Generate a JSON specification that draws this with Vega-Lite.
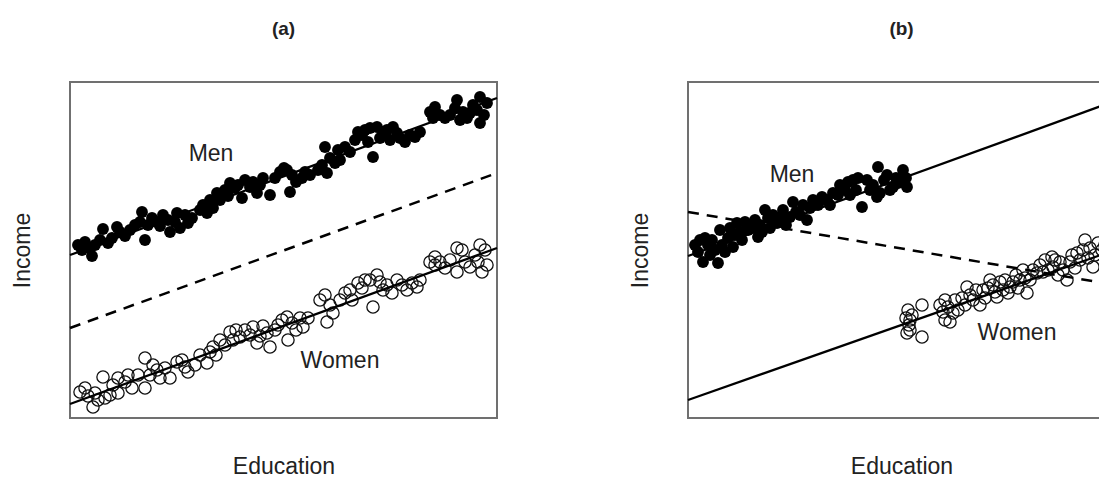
{
  "$schema": "https://vega.github.io/schema/vega-lite/v6.json",
  "background": "white",
  "padding": {"left": 10, "top": 19, "right": 0, "bottom": 0},
  "spacing": 125,
  "config": {
    "view": {"stroke": "#707070", "strokeWidth": 2},
    "axis": {"domain": false, "ticks": false, "labels": false, "grid": false, "titleFont": "Liberation Sans", "titleFontSize": 23, "titleFontWeight": "normal", "titleColor": "#222222"},
    "axisY": {"titlePadding": 36},
    "axisX": {"titlePadding": 37},
    "title": {"font": "Liberation Sans", "fontSize": 19, "fontWeight": "bold", "color": "#222222", "offset": 43},
    "text": {"font": "Liberation Sans", "fontSize": 23, "color": "#222222"}
  },
  "datasets": {
    "a_men": [[15,176],[33,189],[47,191],[72,206],[75,178],[87,196],[100,186],[107,205],[118,195],[137,205],[147,225],[160,235],[175,238],[172,220],[187,225],[200,223],[210,246],[217,248],[220,226],[232,240],[255,271],[257,245],[265,255],[275,271],[288,286],[300,290],[303,261],[307,291],[317,288],[327,285],[335,276],[345,281],[365,311],[387,318],[410,321],[400,305],[410,295],[390,298],[8,173],[12,168],[20,170],[25,173],[22,162],[30,178],[38,175],[42,180],[50,186],[55,182],[60,188],[65,193],[70,196],[78,193],[82,200],[90,192],[93,203],[98,198],[105,196],[110,190],[115,203],[122,200],[130,208],[133,213],[140,218],[143,210],[150,218],[155,228],[158,222],[165,230],[168,233],[180,231],[183,236],[190,233],[193,240],[205,240],[214,250],[222,243],[226,236],[235,246],[240,243],[248,248],[252,253],[260,260],[268,268],[270,258],[280,266],[285,278],[292,283],[295,288],[298,276],[310,280],[313,286],[320,278],[323,291],[330,280],[340,283],[350,286],[360,306],[363,300],[370,303],[375,300],[380,303],[385,310],[393,306],[397,300],[403,313],[407,308],[414,303],[417,315]],
    "a_women": [[15,30],[23,11],[33,41],[40,23],[48,40],[48,25],[68,43],[75,60],[75,30],[87,48],[100,40],[107,56],[118,46],[137,55],[143,71],[150,78],[160,86],[170,81],[175,88],[187,75],[197,85],[200,71],[212,98],[217,101],[218,78],[233,91],[255,123],[257,96],[263,105],[275,125],[288,135],[300,138],[307,143],[303,111],[317,133],[327,138],[337,128],[347,131],[365,161],[365,153],[387,170],[410,173],[387,146],[400,151],[412,146],[10,26],[18,22],[25,25],[28,18],[35,20],[43,33],[55,36],[58,43],[62,30],[80,43],[83,53],[90,40],[95,50],[112,58],[115,51],[125,53],[130,63],[140,66],[146,63],[155,73],[163,78],[166,88],[180,83],[183,91],[190,82],[193,92],[205,88],[208,93],[222,95],[226,88],[230,100],[238,100],[250,118],[260,113],[270,118],[280,128],[282,118],[292,130],[295,138],[310,136],[313,128],[322,125],[332,133],[342,135],[350,138],[360,156],[370,156],[375,150],[380,158],[392,168],[395,156],[405,163],[408,156],[417,153],[415,168]],
    "b_men": [[17,180],[22,163],[30,155],[32,188],[49,195],[45,171],[70,181],[77,208],[89,195],[105,216],[102,201],[119,198],[139,218],[145,225],[165,238],[174,211],[179,238],[190,251],[192,225],[205,231],[215,241],[215,248],[219,231],[189,221],[7,173],[10,166],[12,178],[15,156],[20,173],[24,178],[27,168],[34,173],[37,166],[40,180],[42,190],[47,183],[52,186],[54,178],[57,196],[60,188],[64,190],[67,198],[72,193],[74,186],[80,200],[82,190],[85,203],[92,200],[95,208],[98,193],[108,206],[112,203],[115,213],[122,210],[125,218],[130,213],[134,221],[142,213],[150,223],[152,233],[157,228],[160,236],[162,223],[168,228],[170,240],[182,228],[185,233],[196,238],[199,243],[202,228],[208,240],[210,235],[218,240]],
    "b_women": [[220,108],[234,113],[222,98],[234,81],[222,88],[257,118],[257,98],[265,105],[279,131],[292,113],[302,138],[309,121],[322,131],[335,148],[342,138],[339,125],[349,145],[364,161],[365,151],[379,138],[389,165],[397,178],[405,151],[218,100],[221,93],[219,85],[224,103],[252,113],[255,106],[260,111],[262,96],[267,118],[270,108],[274,120],[277,113],[282,123],[285,118],[288,128],[295,128],[297,120],[300,130],[305,133],[307,126],[312,136],[315,128],[317,138],[320,125],[325,136],[328,143],[330,130],[332,138],[337,140],[345,148],[352,153],[355,146],[357,158],[360,148],[367,158],[370,143],[372,156],[375,148],[382,156],[384,163],[387,150],[392,158],[395,168],[400,160],[402,170],[407,163],[410,175],[414,168],[417,173],[422,178]],
    "a_lines": [
      {"line": "Men", "education": 0, "income": 163}, {"line": "Men", "education": 427, "income": 320},
      {"line": "Women", "education": 0, "income": 14}, {"line": "Women", "education": 427, "income": 170}
    ],
    "a_pooled": [{"education": 0, "income": 90}, {"education": 427, "income": 245}],
    "b_lines": [
      {"line": "Men", "education": 0, "income": 162}, {"line": "Men", "education": 427, "income": 317},
      {"line": "Women", "education": 0, "income": 18}, {"line": "Women", "education": 427, "income": 168}
    ],
    "b_pooled": [{"education": 0, "income": 206}, {"education": 427, "income": 133}],
    "a_labels": [{"label": "Men", "education": 141, "income": 264}, {"label": "Women", "education": 270, "income": 57}],
    "b_labels": [{"label": "Men", "education": 104, "income": 243}, {"label": "Women", "education": 329, "income": 85}]
  },
  "hconcat": [
    {
      "width": 427,
      "height": 336,
      "title": "(a)",
      "encoding": {
        "x": {"field": "education", "type": "quantitative", "title": "Education", "scale": {"domain": [0, 427], "nice": false, "zero": false}},
        "y": {"field": "income", "type": "quantitative", "title": "Income", "scale": {"domain": [0, 336], "nice": false, "zero": false}}
      },
      "layer": [
        {
          "data": {"name": "a_women"},
          "transform": [{"calculate": "datum[0]", "as": "education"}, {"calculate": "datum[1]", "as": "income"}],
          "mark": {"type": "point", "shape": "circle", "filled": false, "color": "#111111", "size": 150, "strokeWidth": 1.3, "opacity": 1}
        },
        {
          "data": {"name": "a_men"},
          "transform": [{"calculate": "datum[0]", "as": "education"}, {"calculate": "datum[1]", "as": "income"}],
          "mark": {"type": "circle", "color": "#000000", "size": 140, "opacity": 1}
        },
        {
          "data": {"name": "a_lines"},
          "mark": {"type": "line", "color": "#000000", "strokeWidth": 2.3},
          "encoding": {"detail": {"field": "line"}}
        },
        {
          "data": {"name": "a_pooled"},
          "mark": {"type": "line", "color": "#000000", "strokeWidth": 2.5, "strokeDash": [11, 8]},
          "encoding": {}
        },
        {
          "data": {"name": "a_labels"},
          "mark": {"type": "text", "align": "center", "baseline": "middle"},
          "encoding": {"text": {"field": "label"}}
        }
      ]
    },
    {
      "width": 427,
      "height": 336,
      "title": "(b)",
      "encoding": {
        "x": {"field": "education", "type": "quantitative", "title": "Education", "scale": {"domain": [0, 427], "nice": false, "zero": false}},
        "y": {"field": "income", "type": "quantitative", "title": "Income", "scale": {"domain": [0, 336], "nice": false, "zero": false}}
      },
      "layer": [
        {
          "data": {"name": "b_women"},
          "transform": [{"calculate": "datum[0]", "as": "education"}, {"calculate": "datum[1]", "as": "income"}],
          "mark": {"type": "point", "shape": "circle", "filled": false, "color": "#111111", "size": 150, "strokeWidth": 1.3, "opacity": 1}
        },
        {
          "data": {"name": "b_men"},
          "transform": [{"calculate": "datum[0]", "as": "education"}, {"calculate": "datum[1]", "as": "income"}],
          "mark": {"type": "circle", "color": "#000000", "size": 140, "opacity": 1}
        },
        {
          "data": {"name": "b_lines"},
          "mark": {"type": "line", "color": "#000000", "strokeWidth": 2.3},
          "encoding": {"detail": {"field": "line"}}
        },
        {
          "data": {"name": "b_pooled"},
          "mark": {"type": "line", "color": "#000000", "strokeWidth": 2.5, "strokeDash": [11, 8]},
          "encoding": {}
        },
        {
          "data": {"name": "b_labels"},
          "mark": {"type": "text", "align": "center", "baseline": "middle"},
          "encoding": {"text": {"field": "label"}}
        }
      ]
    }
  ]
}
